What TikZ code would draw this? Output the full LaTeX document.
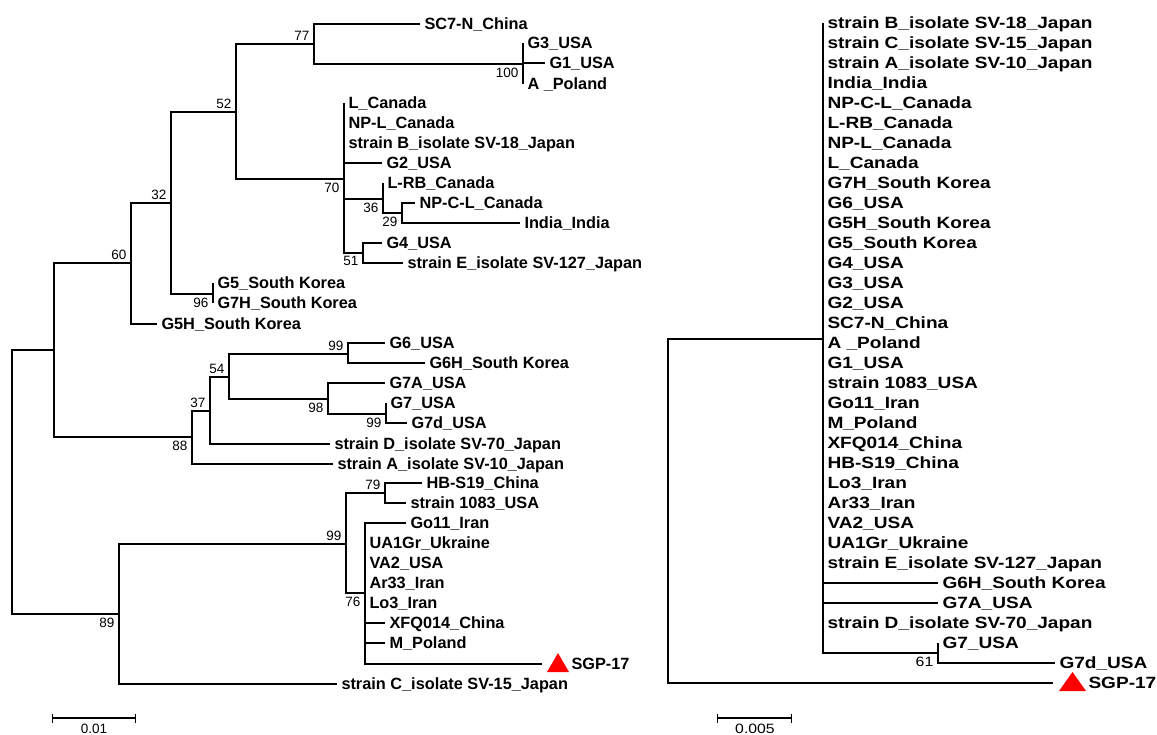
\documentclass[tikz,border=0pt]{standalone}
\usepackage{fontspec}
\usepackage{graphicx}
\setmainfont{Liberation Sans}
\usetikzlibrary{arrows.meta}

\tikzset{
  br/.style={line width=1.8pt},
  leaf/.style={anchor=west, inner xsep=4.5pt, inner ysep=0pt, outer sep=0pt,
    text height=11.5pt, text depth=0pt, font=\bfseries\fontsize{16.3}{19}\selectfont},
  bsfont/.style={inner sep=0pt, font=\fontsize{13.5}{15}\selectfont},
  bsa/.style={bsfont, anchor=south east, xshift=-4.5pt, yshift=3.5pt},
  bsb/.style={bsfont, anchor=north east, xshift=-4.5pt, yshift=-3.5pt},
}
% right panel is printed a little wider
\newcommand{\wide}[1]{\scalebox{1.17}[1]{#1}}

\begin{document}
\begin{tikzpicture}[x=1pt,y=-1pt]
  \useasboundingbox (0,0) rectangle (1157,735);

  % left tree: inner nodes
  \coordinate (rootL) at (12,482);
  \coordinate (nA) at (54,350);
  \coordinate (n60) at (131,263);
  \coordinate (n32) at (171,203);
  \coordinate (n52) at (236,112);
  \coordinate (n77) at (314,44);
  \coordinate (n100) at (523,64);
  \coordinate (n70) at (344,179);
  \coordinate (n36) at (383,199);
  \coordinate (n29) at (402,213);
  \coordinate (n51) at (363,253);
  \coordinate (n96) at (213,294);
  \coordinate (n88) at (192,437);
  \coordinate (n37) at (210,411);
  \coordinate (n54) at (229,377);
  \coordinate (n99a) at (348,354);
  \coordinate (n98) at (328,399);
  \coordinate (n99b) at (386,414);
  \coordinate (n89) at (119,614);
  \coordinate (n99c) at (346,544);
  \coordinate (n79) at (385,493);
  \coordinate (n76) at (365,593);
  \coordinate (tipL) at (542,664);

  % left tree: leaves
  \node[leaf] (sc7) at (420,24) {SC7-N\_China};
  \node[leaf] (g3) at (523,43) {G3\_USA};
  \node[leaf] (g1) at (545,63) {G1\_USA};
  \node[leaf] (apol) at (523,84) {A \_Poland};
  \node[leaf] (lcan) at (344,103) {L\_Canada};
  \node[leaf] (npl) at (344,123) {NP-L\_Canada};
  \node[leaf] (strb) at (344,143) {strain B\_isolate SV-18\_Japan};
  \node[leaf] (g2) at (382,163) {G2\_USA};
  \node[leaf] (lrb) at (383,183) {L-RB\_Canada};
  \node[leaf] (npcl) at (415,203) {NP-C-L\_Canada};
  \node[leaf] (india) at (520,223) {India\_India};
  \node[leaf] (g4) at (382,243) {G4\_USA};
  \node[leaf] (stre) at (403,263) {strain E\_isolate SV-127\_Japan};
  \node[leaf] (g5) at (213,283) {G5\_South Korea};
  \node[leaf] (g7h) at (213,303) {G7H\_South Korea};
  \node[leaf] (g5h) at (157,324) {G5H\_South Korea};
  \node[leaf] (g6) at (385,343) {G6\_USA};
  \node[leaf] (g6h) at (425,363) {G6H\_South Korea};
  \node[leaf] (g7a) at (385,383) {G7A\_USA};
  \node[leaf] (g7) at (386,403) {G7\_USA};
  \node[leaf] (g7d) at (407,423) {G7d\_USA};
  \node[leaf] (strd) at (330,444) {strain D\_isolate SV-70\_Japan};
  \node[leaf] (stra) at (333,464) {strain A\_isolate SV-10\_Japan};
  \node[leaf] (hb) at (422,483) {HB-S19\_China};
  \node[leaf] (s1083) at (406,503) {strain 1083\_USA};
  \node[leaf] (go11) at (406,523) {Go11\_Iran};
  \node[leaf] (ua1) at (365,543) {UA1Gr\_Ukraine};
  \node[leaf] (va2) at (365,563) {VA2\_USA};
  \node[leaf] (ar33) at (365,583) {Ar33\_Iran};
  \node[leaf] (lo3) at (365,603) {Lo3\_Iran};
  \node[leaf] (xfq) at (385,623) {XFQ014\_China};
  \node[leaf] (mpol) at (385,643) {M\_Poland};
  \fill[red] (547,672) -- (569,672) -- (558,653) -- cycle;
  \node[leaf] (sgpL) at (567,664) {SGP-17};
  \node[leaf] (strc) at (337,684) {strain C\_isolate SV-15\_Japan};

  % left tree: branches
  \foreach \p/\c in {rootL/nA, nA/n60, n60/n32, n32/n52, n52/n77, n77/n100,
      n52/n70, n70/n36, n36/n29, n70/n51, n32/n96, nA/n88, n88/n37, n37/n54,
      n54/n99a, n54/n98, n98/n99b, rootL/n89, n89/n99c, n99c/n79, n99c/n76, n76/tipL}
    \draw[br] (\p) |- (\c);
  \foreach \p/\c in {n77/sc7, n100/g3, n100/g1, n100/apol, n70/lcan, n70/npl,
      n70/strb, n70/g2, n36/lrb, n29/npcl, n29/india, n51/g4, n51/stre,
      n96/g5, n96/g7h, n60/g5h, n99a/g6, n99a/g6h, n98/g7a, n99b/g7, n99b/g7d,
      n37/strd, n88/stra, n79/hb, n79/s1083, n76/go11, n76/ua1, n76/va2,
      n76/ar33, n76/lo3, n76/xfq, n76/mpol, n89/strc}
    \draw[br] (\p) |- (\c.west);

  % left tree: bootstrap values
  \foreach \n/\v in {n77/77, n52/52, n32/32, n60/60, n37/37, n54/54, n99a/99,
      n99c/99, n79/79}
    \node[bsa] (b\n) at (\n) {\v};
  \foreach \n/\v in {n100/100, n70/70, n36/36, n29/29, n51/51, n96/96, n88/88,
      n98/98, n99b/99, n89/89, n76/76}
    \node[bsb] (b\n) at (\n) {\v};

  % right tree
  \coordinate (rootR) at (668,500);
  \coordinate (nR) at (823,339);
  \coordinate (n61) at (938,653);
  \coordinate (tipR) at (1053,683);
  \draw[br] (rootR) |- (nR);
  \draw[br] (rootR) |- (tipR);
  \draw[br] (nR) |- (n61);
  \foreach \lab [count=\i] in {strain B\_isolate SV-18\_Japan, strain C\_isolate SV-15\_Japan,
      strain A\_isolate SV-10\_Japan, India\_India, NP-C-L\_Canada, L-RB\_Canada,
      NP-L\_Canada, L\_Canada, G7H\_South Korea, G6\_USA, G5H\_South Korea,
      G5\_South Korea, G4\_USA, G3\_USA, G2\_USA, SC7-N\_China, A \_Poland,
      G1\_USA, strain 1083\_USA, Go11\_Iran, M\_Poland, XFQ014\_China,
      HB-S19\_China, Lo3\_Iran, Ar33\_Iran, VA2\_USA, UA1Gr\_Ukraine,
      strain E\_isolate SV-127\_Japan, G6H\_South Korea, G7A\_USA,
      strain D\_isolate SV-70\_Japan}
  {
    \ifnum\i=29 \def\tx{938}\else\ifnum\i=30 \def\tx{938}\else\def\tx{823}\fi\fi
    \node[leaf] (r\i) at (\tx,3+20*\i) {\wide{\lab}};
    \draw[br] (nR) |- (r\i.west);
  }
  \node[leaf] (rg7) at (938,643) {\wide{G7\_USA}};
  \node[leaf] (rg7d) at (1055,663) {\wide{G7d\_USA}};
  \draw[br] (n61) |- (rg7.west);
  \draw[br] (n61) |- (rg7d.west);
  \node[bsb] (bn61) at (n61) {\wide{61}};
  \fill[red] (1059,691) -- (1086,691) -- (1072.5,672) -- cycle;
  \node[leaf] (sgpR) at (1084,683) {\wide{SGP-17}};

  % scale bars
  \coordinate (sbL1) at (52,718);
  \coordinate (sbL2) at (136,718);
  \coordinate (sbR1) at (717,718);
  \coordinate (sbR2) at (792,718);
  \draw[line width=1.4pt, {Bar[width=9pt]}-{Bar[width=9pt]}] (sbL1) -- (sbL2);
  \draw[line width=1.4pt, {Bar[width=9pt]}-{Bar[width=9pt]}] (sbR1) -- (sbR2);
  \node[bsfont] (slL) at (94,729) {0.01};
  \node[bsfont] (slR) at (755,729) {\wide{0.005}};
\end{tikzpicture}
\end{document}
